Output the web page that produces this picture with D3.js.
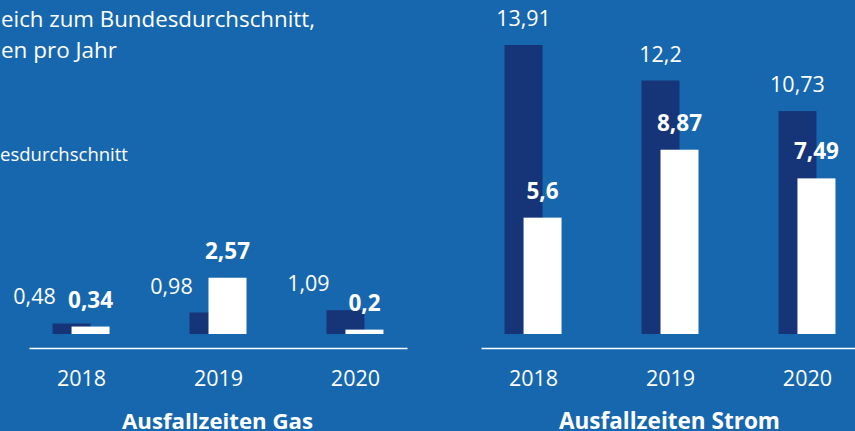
<!DOCTYPE html>
<html>
<head>
<meta charset="utf-8">
<script src="https://cdn.jsdelivr.net/npm/d3@7"></script>
<style>
  html, body { margin: 0; padding: 0; background: #1767af; overflow: hidden; }
  svg { display: block; font-family: "Open Sans", "Noto Sans", sans-serif; }
  .txt { fill: #fff; }
</style>
</head>
<body>
<svg id="grafico" width="855" height="431"></svg>
<script>
// datos
const jahre = ['2018', '2019', '2020'];
const gas_bund = [0.48, 0.98, 1.09];
const gas_werte = [0.34, 2.57, 0.2];
const strom_bund = [13.91, 12.2, 10.73];
const strom_werte = [5.6, 8.87, 7.49];

const ancho_barra = 38;
const color_fondo = '#1767af';
const color_oscuro = '#163578';
const linea_base = 334;
const eje_y = 348;

const svg = d3.select('#grafico');
svg.append('rect').attr('width', 855).attr('height', 431).attr('fill', color_fondo);

const coma = v => String(v).replace('.', ',');

// ajusta el tamaño de letra para que el texto ocupe un ancho dado
function ajustar(sel, ancho, base) {
    sel.style('font-size', base + 'px');
    const w = sel.node().getComputedTextLength();
    sel.style('font-size', (base * ancho / w).toFixed(2) + 'px');
    return sel;
}

// texto de cabecera (en el original aparece cortado por la izquierda)
const cabecera = svg.append('g').attr('class', 'txt');
ajustar(cabecera.append('text').attr('x', 1).attr('y', 27)
    .text('eich zum Bundesdurchschnitt,'), 314, 19);
ajustar(cabecera.append('text').attr('x', 1).attr('y', 58)
    .text('en pro Jahr'), 116, 19);
ajustar(cabecera.append('text').attr('x', 0).attr('y', 161)
    .text('esdurchschnitt'), 128, 17);

function panel(rango, maxY, bund, werte, titulo, desplaz_label, ancho_titulo) {
    const x = d3.scalePoint().domain(jahre).range(rango).padding(0.38);
    const y = d3.scaleLinear().domain([0, maxY]).range([linea_base, 45]);

    const g = svg.append('g');
    const filas = jahre.map((j, i) => ({ jahr: j, bund: bund[i], wert: werte[i] }));

    g.selectAll('.bund')
        .data(filas)
        .join('rect')
        .attr('class', 'bund')
        .attr('x', d => x(d.jahr) - 28.5)
        .attr('y', d => y(d.bund))
        .attr('width', ancho_barra)
        .attr('height', d => linea_base - y(d.bund))
        .attr('fill', color_oscuro);

    g.selectAll('.wert')
        .data(filas)
        .join('rect')
        .attr('class', 'wert')
        .attr('x', d => x(d.jahr) - 9.5)
        .attr('y', d => y(d.wert))
        .attr('width', ancho_barra)
        .attr('height', d => linea_base - y(d.wert))
        .attr('fill', '#fff');

    g.selectAll('.lbund')
        .data(filas)
        .join('text')
        .attr('class', 'txt lbund')
        .attr('x', d => x(d.jahr) - 9.5 + desplaz_label)
        .attr('y', d => y(d.bund) - 19)
        .attr('text-anchor', 'middle')
        .style('font-size', '21.5px')
        .text(d => coma(d.bund));

    g.selectAll('.lwert')
        .data(filas)
        .join('text')
        .attr('class', 'txt lwert')
        .attr('x', d => x(d.jahr) + 9.5)
        .attr('y', d => y(d.wert) - 19)
        .attr('text-anchor', 'middle')
        .style('font-size', '22.5px')
        .style('font-weight', 'bold')
        .text(d => coma(d.wert));

    const eje = g.append('g')
        .attr('transform', `translate(0,${eje_y})`)
        .call(d3.axisBottom(x).tickSize(0).tickSizeOuter(0).tickPadding(23));
    eje.select('.domain').attr('stroke', '#fff').attr('stroke-width', 1.5);
    eje.selectAll('text').attr('fill', '#fff').style('font-size', '21.5px')
        .style('font-family', '"Open Sans", "Noto Sans", sans-serif');

    const t = g.append('text')
        .attr('class', 'txt')
        .attr('x', (rango[0] + rango[1]) / 2 - 0.5)
        .attr('y', 429)
        .attr('text-anchor', 'middle')
        .style('font-weight', 'bold')
        .text(titulo);
    ajustar(t, ancho_titulo, 21);
}

panel([29, 407], 13.2, gas_bund, gas_werte, 'Ausfallzeiten Gas', -37, 191);
panel([481, 859], 13.91, strom_bund, strom_werte, 'Ausfallzeiten Strom', 0, 221);
</script>
</body>
</html>
